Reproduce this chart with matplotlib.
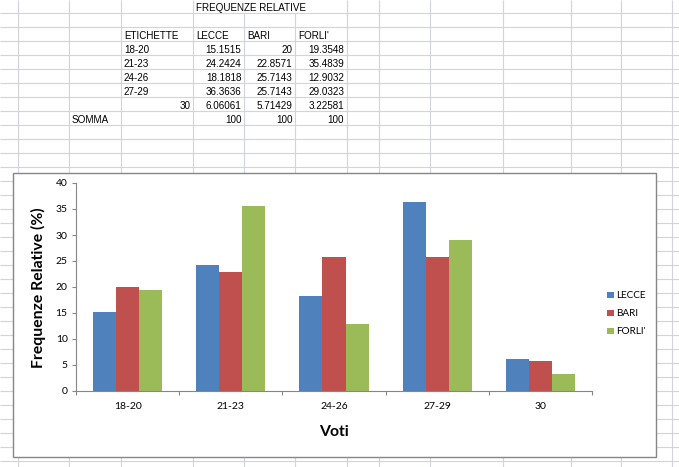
import numpy as np
import matplotlib
matplotlib.use("Agg")
import matplotlib.pyplot as plt
from matplotlib.patches import Rectangle

# ── Dati ─────────────────────────────────────────────────────────
categories = ["18-20", "21-23", "24-26", "27-29", "30"]
lecce = [15.1515, 24.2424, 18.1818, 36.3636, 6.06061]
bari = [20, 22.8571, 25.7143, 25.7143, 5.71429]
forli = [19.3548, 35.4839, 12.9032, 29.0323, 3.22581]
series_names = ["LECCE", "BARI", "FORLI'"]
colors = ["#4f81bd", "#c0504d", "#9bbb59"]

W, H = 679, 467
GRID = "#d0d5dd"
CELL_FONT = "Liberation Sans"
CHART_FONT = "Lato"

# griglia del foglio (pixel)
col_edges = [18, 69, 121, 193, 244, 295, 347, 379, 430, 503, 571, 621, 672]
row0 = 13.3
row_h = 14.0


def fig_rect(x0, y0, x1, y1):
    return [x0 / W, 1 - y1 / H, (x1 - x0) / W, (y1 - y0) / H]


def row_base(r):
    return row0 + row_h * r - 2


fig = plt.figure(figsize=(W / 100, H / 100), dpi=100)
fig.patch.set_facecolor("white")

bg = fig.add_axes([0, 0, 1, 1])
bg.set_xlim(0, W)
bg.set_ylim(H, 0)
bg.axis("off")

# ── Griglia ──────────────────────────────────────────────────────
for x in col_edges:
    if x in (244, 295):
        bg.vlines(x, row0, H, color=GRID, lw=0.8)
    else:
        bg.vlines(x, 0, H, color=GRID, lw=0.8)
for y in np.arange(row0, H, row_h):
    bg.hlines(y, 0, W, color=GRID, lw=0.8)

# ── Tabella ──────────────────────────────────────────────────────
txt = dict(family=CELL_FONT, fontsize=7.1, va="baseline", color="black")
bg.text(196, row_base(0), "FREQUENZE RELATIVE", ha="left", **txt)
bg.text(124, row_base(2), "ETICHETTE", ha="left", **txt)
for name, cx in zip(series_names, [196, 247, 298]):
    bg.text(cx, row_base(2), name, ha="left", **txt)

series = [lecce, bari, forli]
for i, cat in enumerate(categories):
    r = 3 + i
    if cat.isdigit():
        bg.text(190.5, row_base(r), cat, ha="right", **txt)
    else:
        bg.text(124, row_base(r), cat, ha="left", **txt)
    for vals, right in zip(series, [241.5, 292.5, 344]):
        bg.text(right, row_base(r), f"{vals[i]:.6g}", ha="right", **txt)

bg.text(72, row_base(8), "SOMMA", ha="left", **txt)
for vals, right in zip(series, [241.5, 292.5, 344]):
    bg.text(right, row_base(8), f"{round(sum(vals), 3):.6g}", ha="right", **txt)

# ── Riquadro grafico ─────────────────────────────────────────────
bg.add_patch(Rectangle((13, 173), 643, 284, facecolor="white",
                       edgecolor="#868686", lw=1.0, zorder=5))

bg.text(38, 287.5, "Frequenze Relative (%)", rotation=90, ha="center",
        va="center", family=CHART_FONT, fontweight="bold", fontsize=11.3,
        zorder=6)
bg.text(334, 432, "Voti", ha="center", va="center", family=CHART_FONT,
        fontweight="bold", fontsize=11.3, zorder=6)

# ── Grafico a barre ──────────────────────────────────────────────
ax = fig.add_axes(fig_rect(76, 183, 592, 391))
ax.patch.set_visible(False)
x = np.arange(len(categories))
bw = 0.223
for j, (name, vals, col) in enumerate(zip(series_names, series, colors)):
    ax.bar(x + (j - 1) * bw, vals, bw, color=col, label=name, zorder=2)

ax.set_xlim(-0.5, len(categories) - 0.5)
ax.set_ylim(0, 40)
ax.set_yticks(np.arange(0, 41, 5))
ax.set_xticks(np.arange(-0.5, len(categories), 1))
ax.set_xticklabels([])
ax.set_xticks(x, minor=True)
ax.set_xticklabels(categories, minor=True)

for s in ["top", "right"]:
    ax.spines[s].set_visible(False)
for s in ["left", "bottom"]:
    ax.spines[s].set_color("#868686")
    ax.spines[s].set_linewidth(0.8)

ax.tick_params(axis="y", direction="out", length=3, width=0.8,
               color="#868686", pad=3, labelsize=7.5)
ax.tick_params(axis="x", which="major", direction="out", length=3,
               width=0.8, color="#868686")
ax.tick_params(axis="x", which="minor", length=0, pad=8, labelsize=7.5)
for lab in ax.get_xticklabels(minor=True) + ax.get_yticklabels():
    lab.set_family(CHART_FONT)

leg = ax.legend(loc="center left", bbox_to_anchor=(607 / W, 1 - 314 / H),
                bbox_transform=fig.transFigure, frameon=False,
                prop={"family": CHART_FONT, "size": 7.2},
                handlelength=0.65, handleheight=0.65, handletextpad=0.3,
                labelspacing=0.9, borderpad=0, borderaxespad=0)

fig.savefig("out.png", dpi=100)
